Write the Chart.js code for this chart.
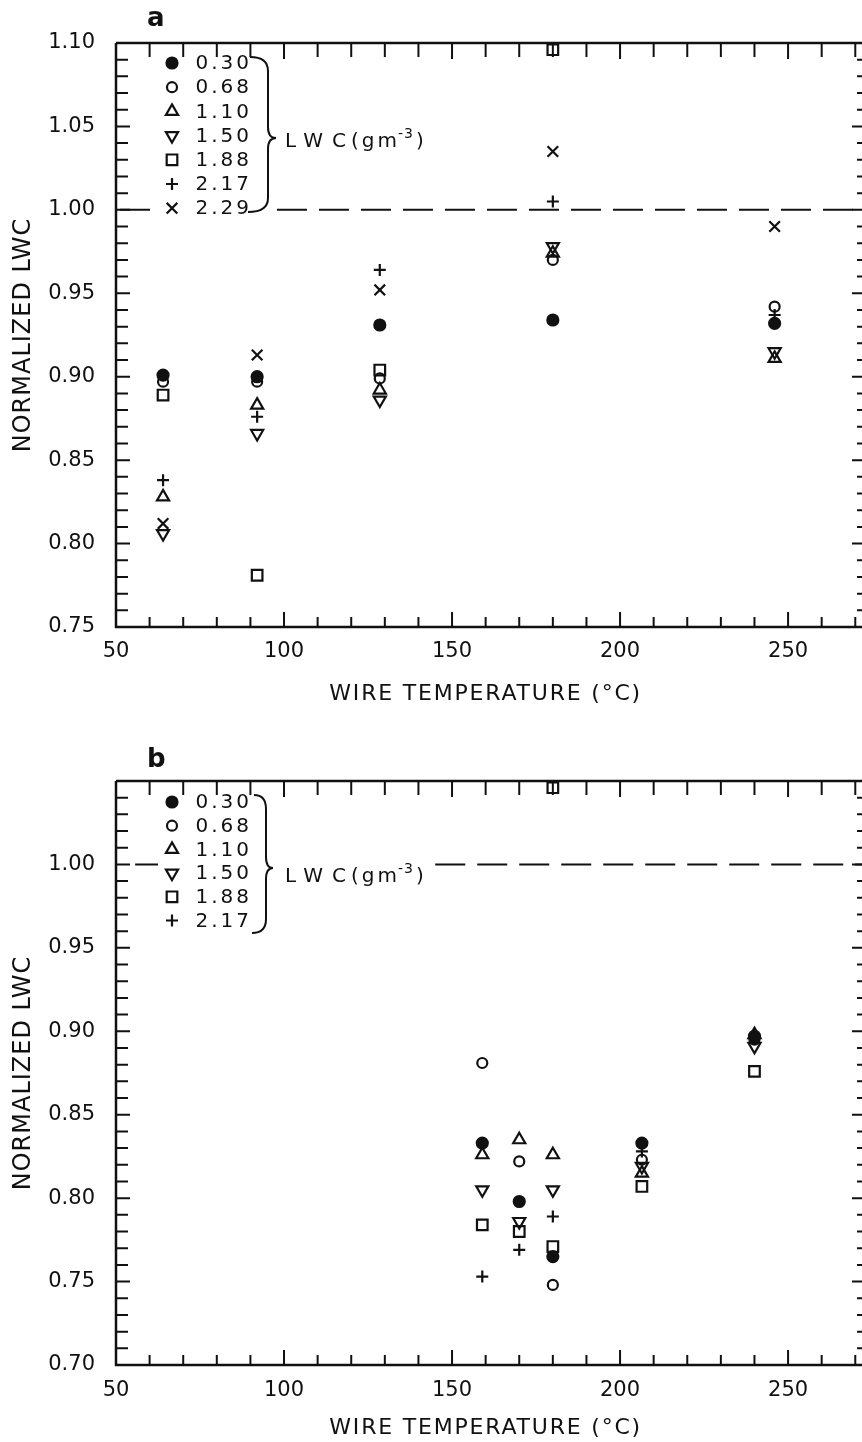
<!DOCTYPE html>
<html>
<head>
<meta charset="utf-8">
<script src="https://cdn.jsdelivr.net/npm/chart.js"></script>
<style>
    body { margin: 0; background: #fff; }
    .panel { position: absolute; left: 0; }
</style>
</head>
<body>
<div class="panel" style="top:0"><canvas id="panelA" width="862" height="720"></canvas></div>
<div class="panel" style="top:720px"><canvas id="panelB" width="862" height="722"></canvas></div>
<script>
// liquid water content of each run (g m^-3), one marker per run
const lwcLabels = ["0.30", "0.68", "1.10", "1.50", "1.88", "2.17", "2.29"];

// panel a: wire temperatures (deg C) and normalized LWC per run
const tempA = [64, 92, 128.5, 180, 246];
const lwcA = [
    [0.901, 0.900, 0.931, 0.934, 0.932],   // 0.30
    [0.897, 0.897, 0.899, 0.970, 0.942],   // 0.68
    [0.828, 0.883, 0.892, 0.974, 0.911],   // 1.10
    [0.806, 0.866, 0.886, 0.978, 0.915],   // 1.50
    [0.889, 0.781, 0.904, 1.096, null],    // 1.88
    [0.838, 0.876, 0.964, 1.005, 0.937],   // 2.17
    [0.812, 0.913, 0.952, 1.035, 0.990]    // 2.29
];

// panel b
const tempB = [159, 170, 180, 206.5, 240];
const lwcB = [
    [0.833, 0.798, 0.765, 0.833, 0.897],   // 0.30
    [0.881, 0.822, 0.748, 0.823, 0.895],   // 0.68
    [0.826, 0.835, 0.826, 0.815, 0.898],   // 1.10
    [0.805, 0.786, 0.805, 0.819, 0.891],   // 1.50
    [0.784, 0.780, 0.771, 0.807, 0.876],   // 1.88
    [0.753, 0.769, 0.789, 0.828, 0.896]    // 2.17
];
// second 1.88 reading at 180 deg C
const extraTempB = [180];
const extraLwcB = [1.046];

const ink = "#111";
const markers = [
    {pointStyle: "circle", radius: 5.5, filled: true},
    {pointStyle: "circle", radius: 5},
    {pointStyle: "triangle", radius: 7},
    {pointStyle: "triangle", radius: 7, rotation: 180},
    {pointStyle: "rect", radius: 7.5},
    {pointStyle: "cross", radius: 6},
    {pointStyle: "crossRot", radius: 7.5}
];

let toPoints = function (xs, ys) {
    return xs.map((x, i) => ({x: x, y: ys[i]})).filter(p => p.y !== null);
};

let markerDataset = function (m, data) {
    return {
        data: data,
        showLine: false,
        pointStyle: m.pointStyle,
        pointRadius: m.radius,
        pointRotation: m.rotation || 0,
        pointBorderWidth: 2.2,
        pointBorderColor: ink,
        pointBackgroundColor: m.filled ? ink : "rgba(0,0,0,0)",
        pointHoverRadius: m.radius
    };
};

let drawMarker = function (ctx, m, x, y) {
    ctx.save();
    ctx.strokeStyle = ink;
    ctx.fillStyle = m.filled ? ink : "rgba(0,0,0,0)";
    ctx.lineWidth = 2.2;
    Chart.helpers.drawPoint(ctx, {
        pointStyle: m.pointStyle, radius: m.radius, rotation: m.rotation || 0, borderWidth: 2.2
    }, x, y);
    ctx.restore();
};

// boxed axes with inward ticks every 10 deg C and every 0.01
const frameTicks = {
    id: "frameTicks",
    afterDatasetsDraw(chart) {
        const {ctx, chartArea: a, scales: {x, y}} = chart;
        ctx.save();
        ctx.strokeStyle = ink;
        ctx.lineWidth = 2.5;
        ctx.beginPath();
        ctx.moveTo(a.left, a.top);
        ctx.lineTo(a.right, a.top);
        ctx.moveTo(a.left, a.top);
        ctx.lineTo(a.left, a.bottom);
        ctx.lineTo(a.right, a.bottom);
        ctx.stroke();
        ctx.lineWidth = 2;
        ctx.beginPath();
        for (let v = 60; v <= 270; v += 10) {
            const px = x.getPixelForValue(v);
            const major = v % 50 === 0;
            ctx.moveTo(px, a.bottom);
            ctx.lineTo(px, a.bottom - (major ? 15 : 10));
            ctx.moveTo(px, a.top);
            ctx.lineTo(px, a.top + (major ? 16 : 14));
        }
        const k0 = Math.round(y.min * 100), k1 = Math.round(y.max * 100);
        for (let k = k0 + 1; k < k1; k++) {
            const py = y.getPixelForValue(k / 100);
            const major = k % 5 === 0;
            ctx.moveTo(a.left, py);
            ctx.lineTo(a.left + (major ? 14 : 12), py);
            ctx.moveTo(a.right, py);
            ctx.lineTo(a.right - (major ? 10 : 5), py);
        }
        ctx.stroke();
        ctx.restore();
    }
};

// axis titles, panel letter and the LWC key with its brace
const annotations = {
    id: "annotations",
    afterDraw(chart) {
        const {ctx, chartArea: a, scales: {x}} = chart;
        const opts = chart.options.plugins.annotations;
        ctx.save();
        ctx.fillStyle = ink;
        ctx.strokeStyle = ink;

        ctx.font = '22px "DejaVu Sans"';
        ctx.letterSpacing = "1.8px";
        ctx.textAlign = "center";
        ctx.textBaseline = "middle";
        ctx.fillText("WIRE TEMPERATURE (°C)", (a.left + x.getPixelForValue(270)) / 2, opts.xTitleY);

        ctx.save();
        ctx.translate(24, (a.top + a.bottom) / 2);
        ctx.rotate(-Math.PI / 2);
        ctx.font = '24px "DejaVu Sans"';
        ctx.letterSpacing = "1px";
        ctx.fillText("NORMALIZED LWC", 0, 0);
        ctx.restore();

        ctx.font = 'bold 26px "DejaVu Sans"';
        ctx.letterSpacing = "0px";
        ctx.textAlign = "left";
        ctx.textBaseline = "alphabetic";
        ctx.fillText(opts.letter, 147, opts.letterY);

        // key rows
        const key = opts.key;
        ctx.font = '20px "DejaVu Sans"';
        ctx.letterSpacing = "3px";
        ctx.textAlign = "right";
        ctx.textBaseline = "middle";
        for (let i = 0; i < key.rows; i++) {
            const ry = key.y0 + key.dy * i;
            drawMarker(ctx, markers[i], 172, ry);
            ctx.fillText(lwcLabels[i], 252, ry + 1);
        }

        // brace
        const b = key.brace;
        ctx.lineWidth = 2;
        ctx.beginPath();
        ctx.moveTo(b.left, b.top);
        ctx.quadraticCurveTo(b.x, b.top, b.x, b.top + 14);
        ctx.lineTo(b.x, b.mid - 11);
        ctx.quadraticCurveTo(b.x, b.mid, b.tip, b.mid);
        ctx.quadraticCurveTo(b.x, b.mid, b.x, b.mid + 11);
        ctx.lineTo(b.x, b.bottom - 14);
        ctx.quadraticCurveTo(b.x, b.bottom, b.left - 2, b.bottom);
        ctx.stroke();

        // LWC (g m^-3)
        let lx = 285;
        const base = key.labelY;
        ctx.textAlign = "left";
        ctx.textBaseline = "alphabetic";
        ctx.font = '20px "DejaVu Sans"';
        ctx.letterSpacing = "9px";
        ctx.fillText("LWC", lx, base);
        lx += ctx.measureText("LWC").width - 4;
        ctx.letterSpacing = "3px";
        ctx.fillText("(gm", lx, base);
        lx += ctx.measureText("(gm").width - 2;
        ctx.font = '14px "DejaVu Sans"';
        ctx.letterSpacing = "1px";
        ctx.fillText("-3", lx, base - 9);
        lx += ctx.measureText("-3").width + 2;
        ctx.font = '20px "DejaVu Sans"';
        ctx.fillText(")", lx, base);
        ctx.restore();
    }
};

let makeChart = function (canvasId, cfg) {
    const datasets = [{
        data: cfg.refLine,
        showLine: true,
        spanGaps: false,
        borderColor: ink,
        borderWidth: 2,
        borderDash: [30, 12],
        pointRadius: 0,
        pointHoverRadius: 0
    }];
    cfg.series.forEach((vals, i) => {
        let pts = toPoints(cfg.temps, vals);
        if (i === 4 && cfg.extra) {
            pts = pts.concat(toPoints(cfg.extra[0], cfg.extra[1]));
        }
        datasets.push(markerDataset(markers[i], pts));
    });

    return new Chart(document.getElementById(canvasId), {
        type: "scatter",
        data: {datasets: datasets},
        plugins: [frameTicks, annotations],
        options: {
            responsive: false,
            animation: false,
            devicePixelRatio: 1,
            layout: {autoPadding: false, padding: {top: cfg.top, right: 0, left: 0, bottom: 0}},
            plugins: {
                legend: {display: false},
                tooltip: {enabled: false},
                annotations: cfg.annotations
            },
            scales: {
                x: {
                    type: "linear",
                    min: 50,
                    max: 272,
                    grid: {display: false},
                    border: {display: false},
                    afterFit: (scale) => {
                        scale.height = cfg.xHeight;
                        scale.paddingLeft = 0;
                        scale.paddingRight = 0;
                    },
                    ticks: {
                        stepSize: 10,
                        autoSkip: false,
                        maxRotation: 0,
                        padding: cfg.xPad,
                        color: ink,
                        font: {family: "DejaVu Sans", size: 21},
                        callback: (v) => (v % 50 === 0 ? String(v) : "")
                    }
                },
                y: {
                    type: "linear",
                    min: cfg.yMin,
                    max: cfg.yMax,
                    grid: {display: false},
                    border: {display: false},
                    afterFit: (scale) => { scale.width = 116; },
                    ticks: {
                        stepSize: 0.01,
                        autoSkip: false,
                        padding: 13,
                        color: ink,
                        font: {family: "DejaVu Sans", size: 21},
                        callback: (v) => {
                            const k = Math.round(v * 100);
                            return (k % 5 === 0 && v <= cfg.yLabelMax + 1e-9) ? v.toFixed(2) : "";
                        }
                    }
                }
            }
        }
    });
};

makeChart("panelA", {
    temps: tempA,
    series: lwcA,
    yMin: 0.75, yMax: 1.10, yLabelMax: 1.10,
    top: 43, xHeight: 93, xPad: 4,
    refLine: [{x: 51.2, y: 1}, {x: 60.7, y: 1}, {x: 60.7, y: null}, {x: 97.9, y: 1}, {x: 272, y: 1}],
    annotations: {
        letter: "a", letterY: 26, xTitleY: 694,
        key: {
            rows: 7, y0: 63, dy: 24.2, labelY: 147,
            brace: {left: 250, x: 268, top: 57, mid: 138, tip: 276, bottom: 212}
        }
    }
});

makeChart("panelB", {
    temps: tempB,
    series: lwcB,
    extra: [extraTempB, extraLwcB],
    yMin: 0.70, yMax: 1.05, yLabelMax: 1.00,
    top: 61, xHeight: 77, xPad: 5,
    refLine: [{x: 55.7, y: 1}, {x: 62.5, y: 1}, {x: 62.5, y: null}, {x: 145, y: 1}, {x: 272, y: 1}],
    annotations: {
        letter: "b", letterY: 47, xTitleY: 708,
        key: {
            rows: 6, y0: 82, dy: 23.7, labelY: 162,
            brace: {left: 254, x: 266, top: 75, mid: 148, tip: 273, bottom: 213}
        }
    }
});
</script>
</body>
</html>
